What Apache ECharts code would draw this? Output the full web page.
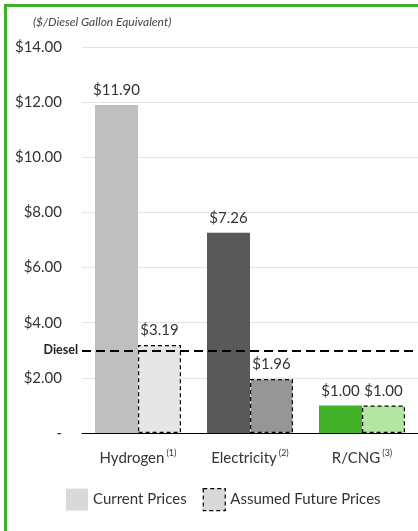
<!DOCTYPE html>
<html>
<head>
<meta charset="utf-8">
<script src="https://cdn.jsdelivr.net/npm/echarts@6/dist/echarts.min.js"></script>
<style>
html,body{margin:0;padding:0;background:#fff;overflow:hidden;}
#frame{position:absolute;left:4px;top:4px;width:430px;height:540px;border-left:3px solid #43b02a;border-top:3px solid #43b02a;}
#chart{position:absolute;left:0;top:0;width:418px;height:531px;}
</style>
</head>
<body>
<div id="frame"></div>
<div id="chart"></div>
<script>
const categories = ['Hydrogen', 'Electricity', 'R/CNG'];
const footnotes = ['(1)', '(2)', '(3)'];
const currentPrices = [11.90, 7.26, 1.00];
const futurePrices = [3.19, 1.96, 1.00];
const dieselPrice = 3.00;
const currentColors = ['#bfbfbf', '#595959', '#43b02a'];
const futureColors = ['#e6e6e6', '#969696', '#b3e6a0'];

const font = 'Lato, "Open Sans", sans-serif';
const chart = echarts.init(document.getElementById('chart'));
chart.setOption({
  animation: false,
  textStyle: {fontFamily: font},
  graphic: [{
    type: 'text', left: 33, top: 16,
    style: {text: '($/Diesel Gallon Equivalent)', font: 'italic 12px ' + font, fill: '#444'}
  }],
  grid: {left: 82, top: 47, width: 341, height: 386, containLabel: false},
  legend: {
    left: 61, top: 483, itemWidth: 22, itemHeight: 22, itemGap: 16,
    textStyle: {fontSize: 15, color: '#333', fontFamily: font},
    data: [
      {name: 'Current Prices', icon: 'rect', itemStyle: {color: '#d9d9d9', borderWidth: 0}},
      {name: 'Assumed Future Prices', icon: 'rect', itemStyle: {color: '#d9d9d9', borderColor: '#000', borderWidth: 1.2, borderType: [4, 3]}}
    ]
  },
  xAxis: {
    type: 'category', data: categories,
    axisLine: {lineStyle: {color: '#000', width: 1}},
    axisTick: {show: false},
    axisLabel: {
      interval: 0, margin: 16, color: '#333', fontSize: 15,
      formatter: (v, i) => v + '{sup|' + footnotes[i] + '}',
      rich: {sup: {fontSize: 9, verticalAlign: 'top', padding: [0, 0, 10, 2], color: '#333'}}
    }
  },
  yAxis: {
    type: 'value', min: 0, max: 14, interval: 2,
    axisLine: {show: false}, axisTick: {show: false},
    splitLine: {lineStyle: {color: '#e3e3e3', width: 1}},
    axisLabel: {
      margin: 20, color: '#333', fontSize: 15,
      formatter: v => v === 0 ? '-' : '$' + v.toFixed(2)
    }
  },
  series: [
    {
      name: 'Current Prices', type: 'bar', barWidth: 43, barGap: '0%',
      data: currentPrices.map((v, i) => ({value: v, itemStyle: {color: currentColors[i]}})),
      itemStyle: {color: '#d9d9d9'},
      label: {show: true, position: 'top', distance: 7, color: '#333', fontSize: 15, formatter: p => '$' + p.value.toFixed(2)},
      markLine: {
        silent: true, symbol: 'none',
        lineStyle: {color: '#000', type: [9, 5], width: 2},
        label: {position: 'start', formatter: 'Diesel', fontWeight: 'bold', fontSize: 12.5, color: '#222', distance: 4},
        data: [{yAxis: dieselPrice}]
      }
    },
    {
      name: 'Assumed Future Prices', type: 'bar', barWidth: 43, barGap: '0%',
      data: futurePrices.map((v, i) => ({value: v, itemStyle: {color: futureColors[i]}})),
      itemStyle: {color: '#d9d9d9', borderColor: '#000', borderWidth: 1.2, borderType: [4, 3]},
      label: {show: true, position: 'top', distance: 7, color: '#333', fontSize: 15, formatter: p => '$' + p.value.toFixed(2)}
    }
  ]
});
</script>
</body>
</html>
